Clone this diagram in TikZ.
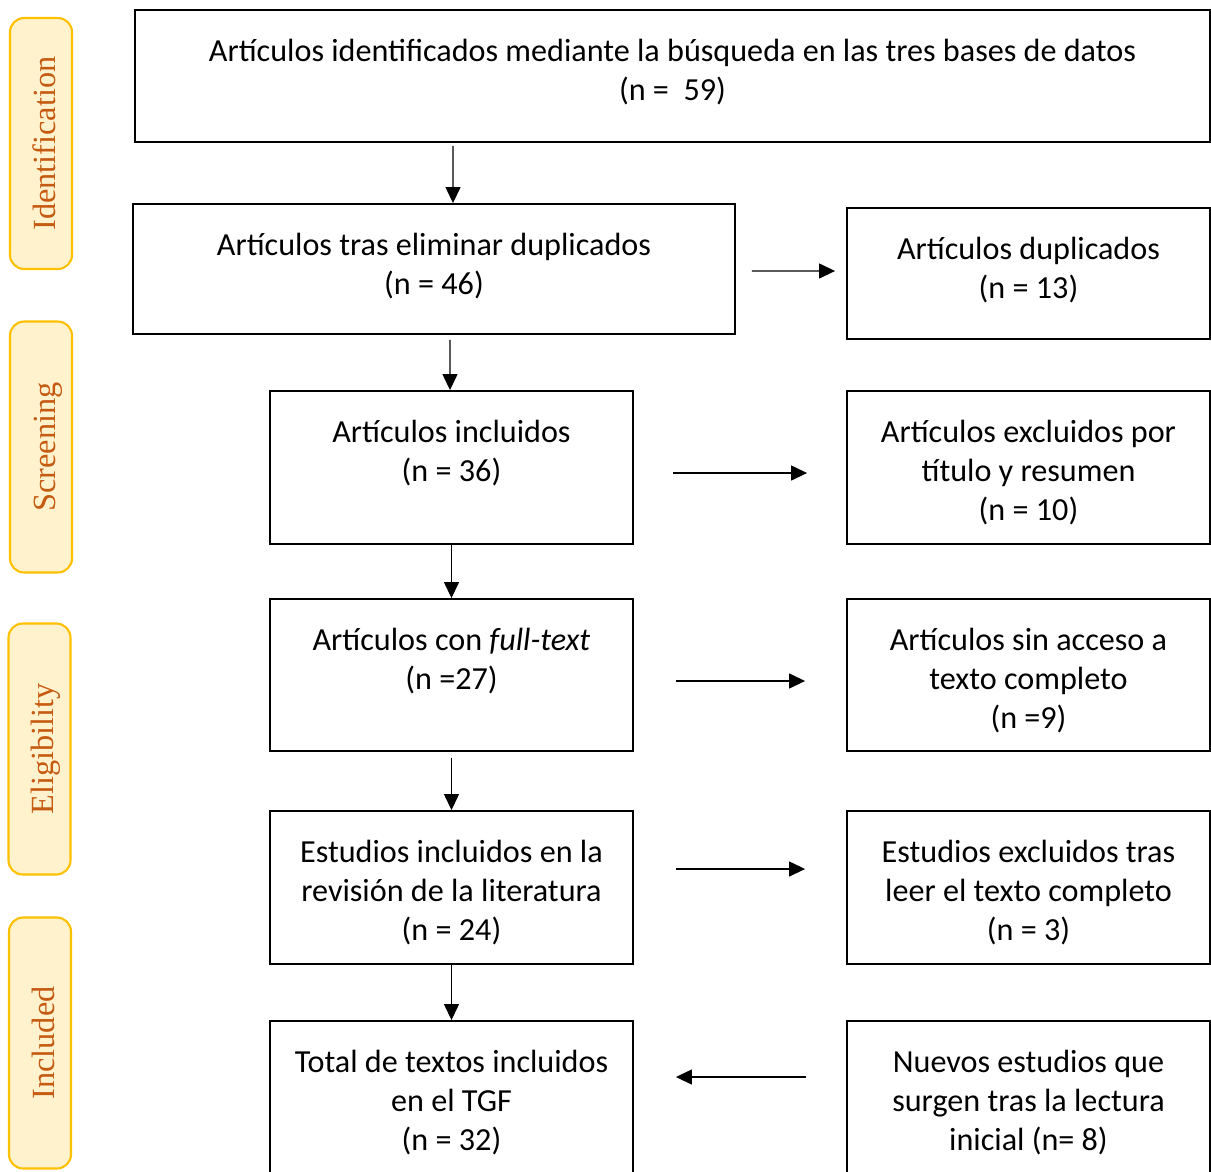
\documentclass[tikz,border=0pt]{standalone}
\usepackage{fontspec}
\setmainfont{Carlito}
\newfontfamily\phasefont{Liberation Serif}
\usepackage{tikz}
\usetikzlibrary{positioning, arrows.meta}
\definecolor{phasefill}{HTML}{FFF2CC}
\definecolor{phasedraw}{HTML}{FFC000}
\definecolor{phasetext}{HTML}{C55A11}
\tikzset{
    box/.style={
        rectangle,
        draw=black, % marco negro
        line width=1.1pt,
        inner sep=0
    },
    boxtext/.style={
        align=center,
        anchor=north,
        inner sep=0,
        font=\fontsize{18.3}{22.2}\selectfont
    },
    phase/.style={
        rectangle,
        rounded corners=8pt,
        draw=phasedraw,
        fill=phasefill,
        line width=1.2pt,
        rotate=90,
        minimum width=5.02cm,
        minimum height=1.24cm,
        text height=16pt, % texto un poco a la derecha
        text depth=0pt,
        text=phasetext,
        font=\phasefont\fontsize{18.4}{20}\selectfont
    },
    arr/.style={
        line width=0.75pt,
        -{Triangle[length=0.32cm,width=0.3cm]}
    }
}
\begin{document}
\begin{tikzpicture}[x=0.02cm, y=-0.02cm]
    \useasboundingbox (0,0) rectangle (1211,1171);
    % fases
    \node[phase] (ident) at (41,143.5) {Identification};
    \node[phase] (screen) at (41,447) {Screening};
    \node[phase] (elig) at (39.5,749) {Eligibility};
    \node[phase] (incl) at (40,1043) {Included};
    % cajas
    \node[box, minimum width=21.5cm, minimum height=2.64cm] (top) at (672.5,76) {};
    \node[box, minimum width=12.04cm, minimum height=2.6cm] (dupr) at (434,269) {};
    \node[box, minimum width=7.26cm, minimum height=2.62cm] (dupl) at (1028.5,273.5) {};
    \node[box, minimum width=7.26cm, minimum height=3.06cm] (inc) at (451.5,467.5) {};
    \node[box, minimum width=7.26cm, minimum height=3.06cm] (exc) at (1028.5,467.5) {};
    \node[box, minimum width=7.26cm, minimum height=3.04cm] (full) at (451.5,675) {};
    \node[box, minimum width=7.26cm, minimum height=3.04cm] (sinac) at (1028.5,675) {};
    \node[box, minimum width=7.26cm, minimum height=3.06cm] (est) at (451.5,887.5) {};
    \node[box, minimum width=7.26cm, minimum height=3.06cm] (estex) at (1028.5,887.5) {};
    \node[box, minimum width=7.26cm, minimum height=3.38cm] (total) at (451.5,1105.5) {};
    \node[box, minimum width=7.26cm, minimum height=3.38cm] (nuevos) at (1028.5,1105.5) {};
    % textos
    \node[boxtext] (top-t) at ([yshift=-0.6cm]top.north)
        {Artículos identificados mediante la búsqueda en las tres bases de datos\\(n = ~59)};
    \node[boxtext] (dupr-t) at ([yshift=-0.6cm]dupr.north)
        {Artículos tras eliminar duplicados\\(n = 46)};
    \node[boxtext] (dupl-t) at ([yshift=-0.6cm]dupl.north)
        {Artículos duplicados\\(n = 13)};
    \node[boxtext] (inc-t) at ([yshift=-0.6cm]inc.north)
        {Artículos incluidos\\(n = 36)};
    \node[boxtext] (exc-t) at ([yshift=-0.6cm]exc.north)
        {Artículos excluidos por\\título y resumen\\(n = 10)};
    \node[boxtext] (full-t) at ([yshift=-0.6cm]full.north)
        {Artículos con \textit{full-text}\\(n =27)};
    \node[boxtext] (sinac-t) at ([yshift=-0.6cm]sinac.north)
        {Artículos sin acceso a\\texto completo\\(n =9)};
    \node[boxtext] (est-t) at ([yshift=-0.6cm]est.north)
        {Estudios incluidos en la\\revisión de la literatura\\(n = 24)};
    \node[boxtext] (estex-t) at ([yshift=-0.6cm]estex.north)
        {Estudios excluidos tras\\leer el texto completo\\(n = 3)};
    \node[boxtext] (total-t) at ([yshift=-0.6cm]total.north)
        {Total de textos incluidos\\en el TGF\\(n = 32)};
    \node[boxtext] (nuevos-t) at ([yshift=-0.6cm]nuevos.north)
        {Nuevos estudios que\\surgen tras la lectura\\inicial (n= 8)};
    % flechas verticales
    \draw[arr, shorten <=0.06cm] ([xshift=-4.39cm]top.south) -- ([xshift=0.38cm]dupr.north);
    \draw[arr, shorten <=0.1cm] ([xshift=0.32cm]dupr.south) -- ([xshift=-0.03cm]inc.north);
    \draw[arr] (inc) -- (full);
    \draw[arr, shorten <=0.12cm] (full) -- (est);
    \draw[arr] (est) -- (total);
    % flechas horizontales
    \draw[arr, shorten <=0.32cm, shorten >=0.22cm] ([yshift=-0.04cm]dupr.east) -- ([yshift=0.05cm]dupl.west);
    \draw[arr, shorten <=0.78cm, shorten >=0.78cm] ([yshift=-0.11cm]inc.east) -- ([yshift=-0.11cm]exc.west);
    \draw[arr, shorten <=0.84cm, shorten >=0.82cm] ([yshift=-0.12cm]full.east) -- ([yshift=-0.12cm]sinac.west);
    \draw[arr, shorten <=0.84cm, shorten >=0.82cm] ([yshift=0.37cm]est.east) -- ([yshift=0.37cm]estex.west);
    \draw[arr, shorten <=0.8cm, shorten >=0.84cm] ([yshift=0.57cm]nuevos.west) -- ([yshift=0.57cm]total.east);
\end{tikzpicture}
\end{document}
